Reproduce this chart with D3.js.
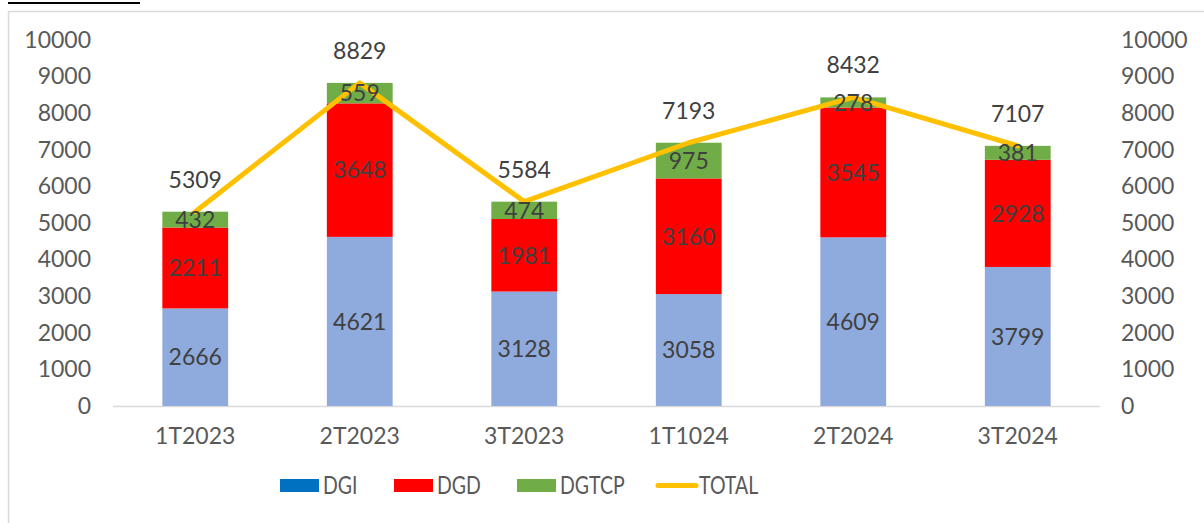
<!DOCTYPE html>
<html><head><meta charset="utf-8">
<script src="https://cdn.jsdelivr.net/npm/d3@7"></script>
<style>html,body{margin:0;padding:0;background:#fff;}svg{display:block;}</style>
</head><body>
<svg id="c" width="1204" height="523"></svg>
<script>
const categories = ["1T2023","2T2023","3T2023","1T1024","2T2024","3T2024"];
const dgi   = [2666, 4621, 3128, 3058, 4609, 3799];
const dgd   = [2211, 3648, 1981, 3160, 3545, 2928];
const dgtcp = [432, 559, 474, 975, 278, 381];
const total = [5309, 8829, 5584, 7193, 8432, 7107];
const yTicks = [0,1000,2000,3000,4000,5000,6000,7000,8000,9000,10000];
const seriesNames = ["DGI","DGD","DGTCP","TOTAL"];

(function(){
const svg = d3.select("#c");
const font = "Lato, 'Open Sans', sans-serif";
const fs = 23;
const W = 1204, H = 523;
const pL = 113, pR = 1100, pT = 40, pB = 406;

// frame
svg.append("path").attr("d", `M8.5,${H} L8.5,11.5 L${W},11.5`).attr("fill","none").attr("stroke","#d9d9d9").attr("stroke-width",1.5);
svg.append("line").attr("x1",8).attr("x2",140).attr("y1",3).attr("y2",3).attr("stroke","#000").attr("stroke-width",2);

const x = d3.scaleBand().domain(categories).range([pL, pR]).padding(0);
const y = d3.scaleLinear().domain([0,10000]).range([pB, pT]);
const bw = x.bandwidth()*0.4;
const cx = c => x(c) + x.bandwidth()/2;

// axes labels
const gl = svg.append("g").attr("transform",`translate(91,0)`)
  .call(d3.axisLeft(y).tickValues(yTicks).tickSize(0).tickPadding(0).tickFormat(d3.format("d")));
gl.select(".domain").remove();
const gr = svg.append("g").attr("transform",`translate(1121,0)`)
  .call(d3.axisRight(y).tickValues(yTicks).tickSize(0).tickPadding(0).tickFormat(d3.format("d")));
gr.select(".domain").remove();
[gl,gr].forEach(g=>g.selectAll("text").attr("font-family",font).attr("font-size",fs).attr("fill","#595959"));

// baseline
svg.append("line").attr("x1",pL).attr("x2",pR).attr("y1",pB+0.5).attr("y2",pB+0.5).attr("stroke","#d9d9d9").attr("stroke-width",1.5);

// x labels
const gx = svg.append("g").attr("transform",`translate(0,${pB})`)
  .call(d3.axisBottom(x).tickSize(0).tickPadding(22));
gx.select(".domain").remove();
gx.selectAll("text").attr("font-family",font).attr("font-size",fs).attr("fill","#595959");

// stacked bars
const stackData = categories.map((c,i)=>({cat:c, DGI:dgi[i], DGD:dgd[i], DGTCP:dgtcp[i]}));
const stack = d3.stack().keys(["DGI","DGD","DGTCP"])(stackData);
const barColors = {DGI:"#8faadc", DGD:"#ff0000", DGTCP:"#70ad47"};
stack.forEach(s=>{
  svg.append("g").selectAll("rect").data(s).join("rect")
    .attr("x", d=>cx(d.data.cat)-bw/2).attr("width", bw)
    .attr("y", d=>y(d[1])).attr("height", d=>y(d[0])-y(d[1]))
    .attr("fill", barColors[s.key]);
});

// total line
const line = d3.line().x((d,i)=>cx(categories[i])).y(d=>y(d));
svg.append("path").datum(total).attr("d", line).attr("fill","none")
  .attr("stroke","#ffc000").attr("stroke-width",5).attr("stroke-linejoin","round").attr("stroke-linecap","round");

// segment labels
stack.forEach(s=>{
  svg.append("g").selectAll("text").data(s).join("text")
    .attr("x", d=>cx(d.data.cat)).attr("y", d=>(y(d[0])+y(d[1]))/2)
    .attr("dy","0.36em").attr("text-anchor","middle")
    .attr("font-family",font).attr("font-size",fs).attr("fill","#404040")
    .text(d=>d.data[s.key]);
});
// total labels
svg.append("g").selectAll("text").data(total).join("text")
  .attr("x",(d,i)=>cx(categories[i])).attr("y",d=>y(d)-24)
  .attr("text-anchor","middle").attr("font-family",font).attr("font-size",fs).attr("fill","#404040")
  .text(d=>d);

// legend
const legX = [280, 394, 517, 656];
const leg = svg.append("g");
seriesNames.forEach((n,i)=>{
  if(n==="TOTAL"){
    leg.append("line").attr("x1",legX[i]+2).attr("x2",legX[i]+40).attr("y1",485.5).attr("y2",485.5)
      .attr("stroke","#ffc000").attr("stroke-width",5).attr("stroke-linecap","round");
  } else {
    leg.append("rect").attr("x",legX[i]).attr("y",479).attr("width",39).attr("height",13)
      .attr("fill", n==="DGI" ? "#0070c0" : barColors[n]);
  }
  leg.append("text").attr("transform",`translate(${legX[i]+43},493.5) scale(0.78,1)`).attr("font-family",font)
    .attr("font-size",25).attr("fill","#595959").text(n);
});
})();
</script>
</body></html>
